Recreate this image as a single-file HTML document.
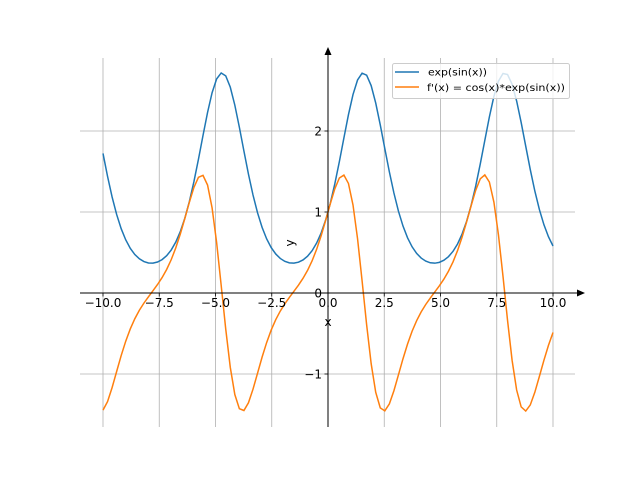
<!DOCTYPE html>
<html><head><meta charset="utf-8"><style>body{margin:0;background:#fff}svg{display:block}text{font-family:"DejaVu Sans","Liberation Sans",sans-serif;font-size:12px;fill:#000}</style></head>
<body>
<svg id="s" width="640" height="480" xmlns="http://www.w3.org/2000/svg">
<g id="grid" stroke="#b0b0b0" stroke-width="0.8"></g>
<g id="ticks" stroke="#000" stroke-width="0.8"></g>
<path id="p1" fill="none" stroke="#1f77b4" stroke-width="1.5"/>
<path id="p2" fill="none" stroke="#ff7f0e" stroke-width="1.5"/>
<line x1="80" y1="293" x2="580" y2="293" stroke="#000" stroke-width="1"/>
<polygon points="585,293 577,289.5 577,296.5" fill="#000"/>
<line x1="328" y1="427" x2="328" y2="53" stroke="#000" stroke-width="1"/>
<polygon points="328,47 324.5,55 331.5,55" fill="#000"/>
<g id="labels"></g>
<text x="328" y="326" text-anchor="middle">x</text>
<text transform="translate(294,243) rotate(-90)" text-anchor="middle">y</text>
<rect x="392.5" y="63.5" width="177" height="35" fill="#fff" fill-opacity="0.8" stroke="#ccc" rx="2"/>
<line x1="395" y1="72" x2="419" y2="72" stroke="#1f77b4" stroke-width="1.5"/>
<text x="428" y="75.5" style="font-size:10px" textLength="59" lengthAdjust="spacingAndGlyphs">exp(sin(x))</text>
<line x1="395" y1="87" x2="419" y2="87" stroke="#ff7f0e" stroke-width="1.5"/>
<text x="427" y="91" style="font-size:10px" textLength="138" lengthAdjust="spacingAndGlyphs">f'(x) = cos(x)*exp(sin(x))</text>
</svg>
<script>
var X=v=>328+22.5*v,Y=v=>293-81*v,ns="http://www.w3.org/2000/svg";
function el(p,t,a,txt){var e=document.createElementNS(ns,t);for(var k in a)e.setAttribute(k,a[k]);if(txt!=null)e.textContent=txt;document.getElementById(p).appendChild(e);}
for(var v=-10;v<=10;v+=2.5){var x=X(v);el("grid","line",{x1:x,y1:58,x2:x,y2:427});el("ticks","line",{x1:x,y1:293,x2:x,y2:296.5});
el("labels","text",{x:x,y:307,"text-anchor":"middle"},(v<0?"\u2212":"")+Math.abs(v).toFixed(1));}
[-1,0,1,2].forEach(function(v){var y=Y(v);el("grid","line",{x1:80,y1:y,x2:575,y2:y});el("ticks","line",{x1:324.5,y1:y,x2:328,y2:y});
el("labels","text",{x:322,y:y+4.5,"text-anchor":"end"},(v<0?"\u2212":"")+Math.abs(v));});
var a="",b="";for(var i=0;i<100;i++){var t=-10+20*i/99,e=Math.exp(Math.sin(t));a+=(i?"L":"M")+X(t).toFixed(2)+","+Y(e).toFixed(2);b+=(i?"L":"M")+X(t).toFixed(2)+","+Y(Math.cos(t)*e).toFixed(2);}
document.getElementById("p1").setAttribute("d",a);document.getElementById("p2").setAttribute("d",b);
</script>
</body></html>
